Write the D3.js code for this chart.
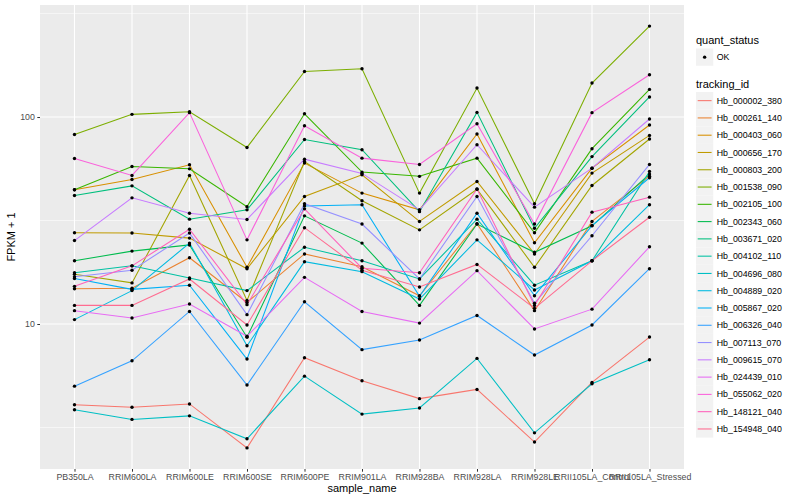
<!DOCTYPE html>
<html>
<head>
<meta charset="utf-8">
<script src="https://cdn.jsdelivr.net/npm/d3@7"></script>
<style>
  body { margin: 0; background: #fff; }
  text { font-family: "Liberation Sans", Arial, sans-serif; }
</style>
</head>
<body>
<div id="chart"></div>
<script>
// samples on the x axis
const samples = ["PB350LA", "RRIM600LA", "RRIM600LE", "RRIM600SE", "RRIM600PE", "RRIM901LA",
  "RRIM928BA", "RRIM928LA", "RRIM928LE", "RRII105LA_Control", "RRII105LA_Stressed"];

const trackingIds = ["Hb_000002_380", "Hb_000261_140", "Hb_000403_060", "Hb_000656_170",
  "Hb_000803_200", "Hb_001538_090", "Hb_002105_100", "Hb_002343_060", "Hb_003671_020",
  "Hb_004102_110", "Hb_004696_080", "Hb_004889_020", "Hb_005867_020", "Hb_006326_040",
  "Hb_007113_070", "Hb_009615_070", "Hb_024439_010", "Hb_055062_020", "Hb_148121_040",
  "Hb_154948_040"];

// FPKM + 1, one row per tracking id, same order as samples
const fpkm = [
  [4.07, 3.96, 4.11, 2.52, 6.87, 5.32, 4.36, 4.83, 2.69, 5.22, 8.65],
  [14.8, 14.9, 20.9, 12.7, 21.8, 18.9, 13.7, 30.5, 11.6, 31.3, 51.8],
  [44.5, 49.9, 58.8, 18.8, 59.9, 42.9, 35.6, 82.8, 24.7, 56.6, 91.5],
  [27.6, 27.5, 26.0, 18.5, 41.3, 52.6, 31.3, 48.8, 21.8, 53.6, 81.5],
  [17.4, 15.8, 52.2, 13.0, 61.0, 39.4, 28.5, 44.8, 18.8, 46.7, 78.3],
  [82.4, 103, 106, 71.3, 166, 171, 42.9, 138, 38.1, 146, 275],
  [44.5, 57.7, 56.2, 36.9, 103.7, 54.2, 51.7, 63.3, 27.6, 70.3, 136],
  [20.2, 22.5, 24.1, 8.63, 33.3, 24.6, 12.3, 30.4, 22.2, 29.8, 53.0],
  [41.8, 46.5, 32.1, 35.6, 77.9, 69.5, 34.9, 105.3, 29.0, 64.4, 125],
  [17.7, 19.1, 16.7, 14.5, 23.5, 20.2, 16.5, 32.1, 15.4, 20.2, 54.6],
  [3.85, 3.46, 3.60, 2.79, 5.60, 3.67, 3.93, 6.82, 2.98, 5.14, 6.72],
  [10.5, 14.5, 24.6, 7.85, 20.0, 17.9, 13.2, 25.5, 14.6, 20.2, 37.7],
  [16.6, 14.7, 15.4, 6.77, 37.2, 37.7, 13.6, 34.3, 13.7, 29.9, 50.9],
  [5.01, 6.64, 11.5, 5.07, 12.8, 7.52, 8.37, 11.0, 7.08, 9.89, 18.5],
  [16.9, 18.2, 27.5, 11.1, 38.1, 30.4, 16.5, 41.3, 12.6, 26.7, 59.0],
  [25.3, 40.7, 34.3, 32.0, 62.6, 53.4, 35.6, 73.5, 36.7, 56.6, 97.8],
  [11.6, 10.7, 12.5, 8.72, 16.8, 11.5, 10.1, 18.1, 9.46, 11.8, 23.6],
  [63.0, 52.2, 105, 25.5, 90.8, 63.3, 59.0, 92.8, 30.4, 105, 160],
  [15.2, 19.1, 28.7, 12.4, 36.0, 18.6, 17.7, 44.9, 12.3, 34.7, 41.0],
  [12.3, 12.3, 16.5, 9.89, 29.2, 18.2, 15.1, 19.4, 11.9, 20.2, 32.8]
];

const yTicks = [10, 100];

// ggplot default hue palette, 20 levels
const palette = ["#F8766D", "#EA8331", "#D89000", "#C09B00", "#A3A500", "#7CAE00", "#39B600",
  "#00BB4E", "#00BF7D", "#00C1A3", "#00BFC4", "#00BAE0", "#00B0F6", "#35A2FF", "#9590FF",
  "#C77CFF", "#E76BF3", "#FA62DB", "#FF62BC", "#FF6C91"];

const W = 800, H = 500;
const PANEL = { LEFT: 40, RIGHT: 684, TOP: 5, BOTTOM: 469 };

const svg = d3.select("#chart").append("svg").attr("width", W).attr("height", H);

// x: discrete with 0.6 expansion each side
const step = (PANEL.RIGHT - PANEL.LEFT) / (samples.length - 1 + 1.2);
const x = d3.scalePoint().domain(samples)
  .range([PANEL.LEFT + 0.6 * step, PANEL.RIGHT - 0.6 * step]);

// y: log10 with 5% expansion
const all = fpkm.flat();
const lo = Math.log10(d3.min(all)), hi = Math.log10(d3.max(all));
const pad = (hi - lo) * 0.05;
const y = d3.scaleLog().domain([10 ** (lo - pad), 10 ** (hi + pad)])
  .range([PANEL.BOTTOM, PANEL.TOP]);

// panel background
svg.append("rect")
  .attr("x", PANEL.LEFT).attr("y", PANEL.TOP)
  .attr("width", PANEL.RIGHT - PANEL.LEFT).attr("height", PANEL.BOTTOM - PANEL.TOP)
  .attr("fill", "#EBEBEB");

// minor gridlines halfway between decades (log space)
const minor = [];
for (let e = Math.floor(lo - pad); e <= Math.ceil(hi + pad); e++) minor.push(10 ** (e + 0.5));
svg.append("g").selectAll("line")
  .data(minor.filter(v => y(v) > PANEL.TOP && y(v) < PANEL.BOTTOM))
  .join("line")
  .attr("x1", PANEL.LEFT).attr("x2", PANEL.RIGHT)
  .attr("y1", d => y(d)).attr("y2", d => y(d))
  .attr("stroke", "#fff").attr("stroke-width", 0.55);

svg.append("g").selectAll("line").data(yTicks).join("line")
  .attr("x1", PANEL.LEFT).attr("x2", PANEL.RIGHT)
  .attr("y1", d => y(d)).attr("y2", d => y(d))
  .attr("stroke", "#fff").attr("stroke-width", 1.1);

svg.append("g").selectAll("line").data(samples).join("line")
  .attr("x1", d => x(d)).attr("x2", d => x(d))
  .attr("y1", PANEL.TOP).attr("y2", PANEL.BOTTOM)
  .attr("stroke", "#fff").attr("stroke-width", 1.1);

// axes
const xAxis = svg.append("g")
  .attr("transform", `translate(0, ${PANEL.BOTTOM})`)
  .call(d3.axisBottom(x).tickSize(2.7).tickPadding(2.5));
const yAxis = svg.append("g")
  .attr("transform", `translate(${PANEL.LEFT}, 0)`)
  .call(d3.axisLeft(y).tickValues(yTicks).tickFormat(d3.format("d")).tickSize(2.7).tickPadding(2.5));
[xAxis, yAxis].forEach(a => {
  a.select(".domain").remove();
  a.selectAll(".tick line").attr("stroke", "#333333").attr("stroke-width", 1);
  a.selectAll(".tick text").attr("fill", "#4D4D4D").style("font-size", "8.8px")
    .style("font-family", "'Liberation Sans', Arial, sans-serif");
});

// lines
const line = d3.line().x((d, i) => x(samples[i])).y(d => y(d));
svg.append("g").selectAll("path").data(fpkm).join("path")
  .attr("d", line)
  .attr("fill", "none")
  .attr("stroke", (d, i) => palette[i])
  .attr("stroke-width", 1.07);

// points
svg.append("g").selectAll("g").data(fpkm).join("g")
  .selectAll("circle").data(d => d).join("circle")
  .attr("cx", (d, i) => x(samples[i]))
  .attr("cy", d => y(d))
  .attr("r", 1.7)
  .attr("fill", "#000");

// axis titles
svg.append("text")
  .attr("x", (PANEL.LEFT + PANEL.RIGHT) / 2).attr("y", 492)
  .attr("text-anchor", "middle").style("font-size", "11px").attr("fill", "#000")
  .text("sample_name");
svg.append("text")
  .attr("transform", `translate(15, ${(PANEL.TOP + PANEL.BOTTOM) / 2}) rotate(-90)`)
  .attr("text-anchor", "middle").style("font-size", "11px").attr("fill", "#000")
  .text("FPKM + 1");

// legends
const LX = 696, KEY = 17.28;
const leg = svg.append("g");
leg.append("text").attr("x", LX).attr("y", 44).style("font-size", "11px").text("quant_status");
leg.append("rect").attr("x", LX).attr("y", 48.5).attr("width", KEY).attr("height", KEY).attr("fill", "#F2F2F2");
leg.append("circle").attr("cx", LX + KEY / 2).attr("cy", 48.5 + KEY / 2).attr("r", 1.7).attr("fill", "#000");
leg.append("text").attr("x", LX + KEY + 3.5).attr("y", 48.5 + KEY / 2 + 3.1)
  .style("font-size", "8.8px").text("OK");

leg.append("text").attr("x", LX).attr("y", 88).style("font-size", "11px").text("tracking_id");
const keys = leg.append("g").selectAll("g").data(trackingIds).join("g")
  .attr("transform", (d, i) => `translate(${LX}, ${92 + i * KEY})`);
keys.append("rect").attr("width", KEY).attr("height", KEY).attr("fill", "#F2F2F2");
keys.append("line")
  .attr("x1", 1.7).attr("x2", KEY - 1.7)
  .attr("y1", KEY / 2).attr("y2", KEY / 2)
  .attr("stroke", (d, i) => palette[i]).attr("stroke-width", 1.07);
keys.append("text").attr("x", KEY + 3.5).attr("y", KEY / 2 + 3.1)
  .style("font-size", "8.8px").text(d => d);
</script>
</body>
</html>
